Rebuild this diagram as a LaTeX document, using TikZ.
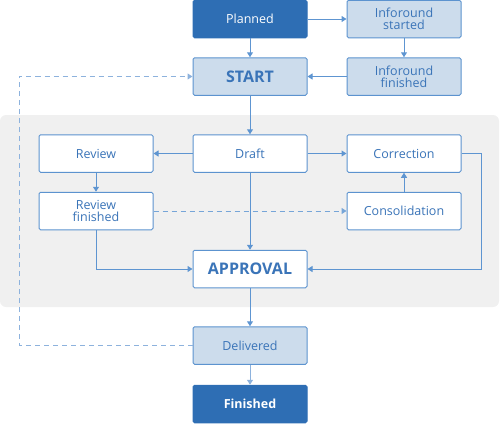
\documentclass[tikz,border=0pt]{standalone}
\usepackage{fontspec}
\setmainfont{Open Sans}
\usetikzlibrary{arrows.meta}
\definecolor{dark}{HTML}{2E6EB4}
\definecolor{light}{HTML}{CCDCEC}
\definecolor{edge}{HTML}{5C93CF}
\definecolor{txt}{HTML}{3A74B8}
\definecolor{line}{HTML}{5E95D1}
\definecolor{dline}{HTML}{8DB2DD}
\definecolor{bg}{HTML}{F0F0F0}
\tikzset{
  box/.style={draw=edge, line width=1pt, rounded corners=1.5pt, minimum width=114pt, minimum height=37.5pt, inner sep=0pt, align=center, font=\fontsize{12.5}{12}\selectfont, text=txt},
  darkbox/.style={box, fill=dark, draw=dark, text=white},
  lightbox/.style={box, fill=light},
  whitebox/.style={box, fill=white},
  big/.style={font=\fontsize{16}{18}\selectfont\bfseries},
  conn/.style={draw=line, line width=1pt, -{Triangle[width=6pt,length=5pt]}},
  dconn/.style={conn, dash pattern=on 5pt off 4pt},
}
\begin{document}
\begin{tikzpicture}[x=1pt,y=-1pt]
\useasboundingbox (0,0) rectangle (500,423);
\fill[bg, rounded corners=6pt] (0,115) rectangle (499,307);
\node[darkbox] (planned) at (250,19) {Planned};
\node[lightbox] (ifs) at (404,19) {Inforound\\started};
\node[lightbox, big] (start) at (250,76.5) {START};
\node[lightbox] (iff) at (404,76.5) {Inforound\\finished};
\node[whitebox] (review) at (96,153.5) {Review};
\node[whitebox] (draft) at (250,153.5) {Draft};
\node[whitebox] (corr) at (404,153.5) {Correction};
\node[whitebox] (revf) at (96,211) {Review\\finished};
\node[whitebox] (cons) at (404,211) {Consolidation};
\node[whitebox, big] (appr) at (250,269) {APPROVAL};
\node[lightbox] (deliv) at (250,345.5) {Delivered};
\node[darkbox, font=\fontsize{12.5}{12}\selectfont\bfseries] (fin) at (250,404) {Finished};
\coordinate (loopb) at (19,345.5);
\coordinate (loopt) at (19,76.5);
\coordinate (cr) at (481,153.5);
\coordinate (crb) at (481,269);
\coordinate (rfb) at (96,269);
\draw[conn] (planned) -- (ifs);
\draw[conn] (planned) -- (start);
\draw[conn] (ifs) -- (iff);
\draw[conn] (iff) -- (start);
\draw[conn] (start) -- (draft);
\draw[conn] (draft) -- (review);
\draw[conn] (draft) -- (corr);
\draw[conn] (review) -- (revf);
\draw[conn] (cons) -- (corr);
\draw[dconn, draw=line!85] (revf) -- (cons);
\draw[conn] (draft) -- (appr);
\draw[conn] (revf.south) -- (rfb) -- (appr.west);
\draw[conn] (corr.east) -- (cr) -- (crb) -- (appr.east);
\draw[conn] (appr) -- (deliv);
\draw[conn, draw=dline] (deliv) -- (fin);
\draw[dconn, draw=dline] (deliv.west) -- (loopb) -- (loopt) -- (start.west);
\end{tikzpicture}
\end{document}
